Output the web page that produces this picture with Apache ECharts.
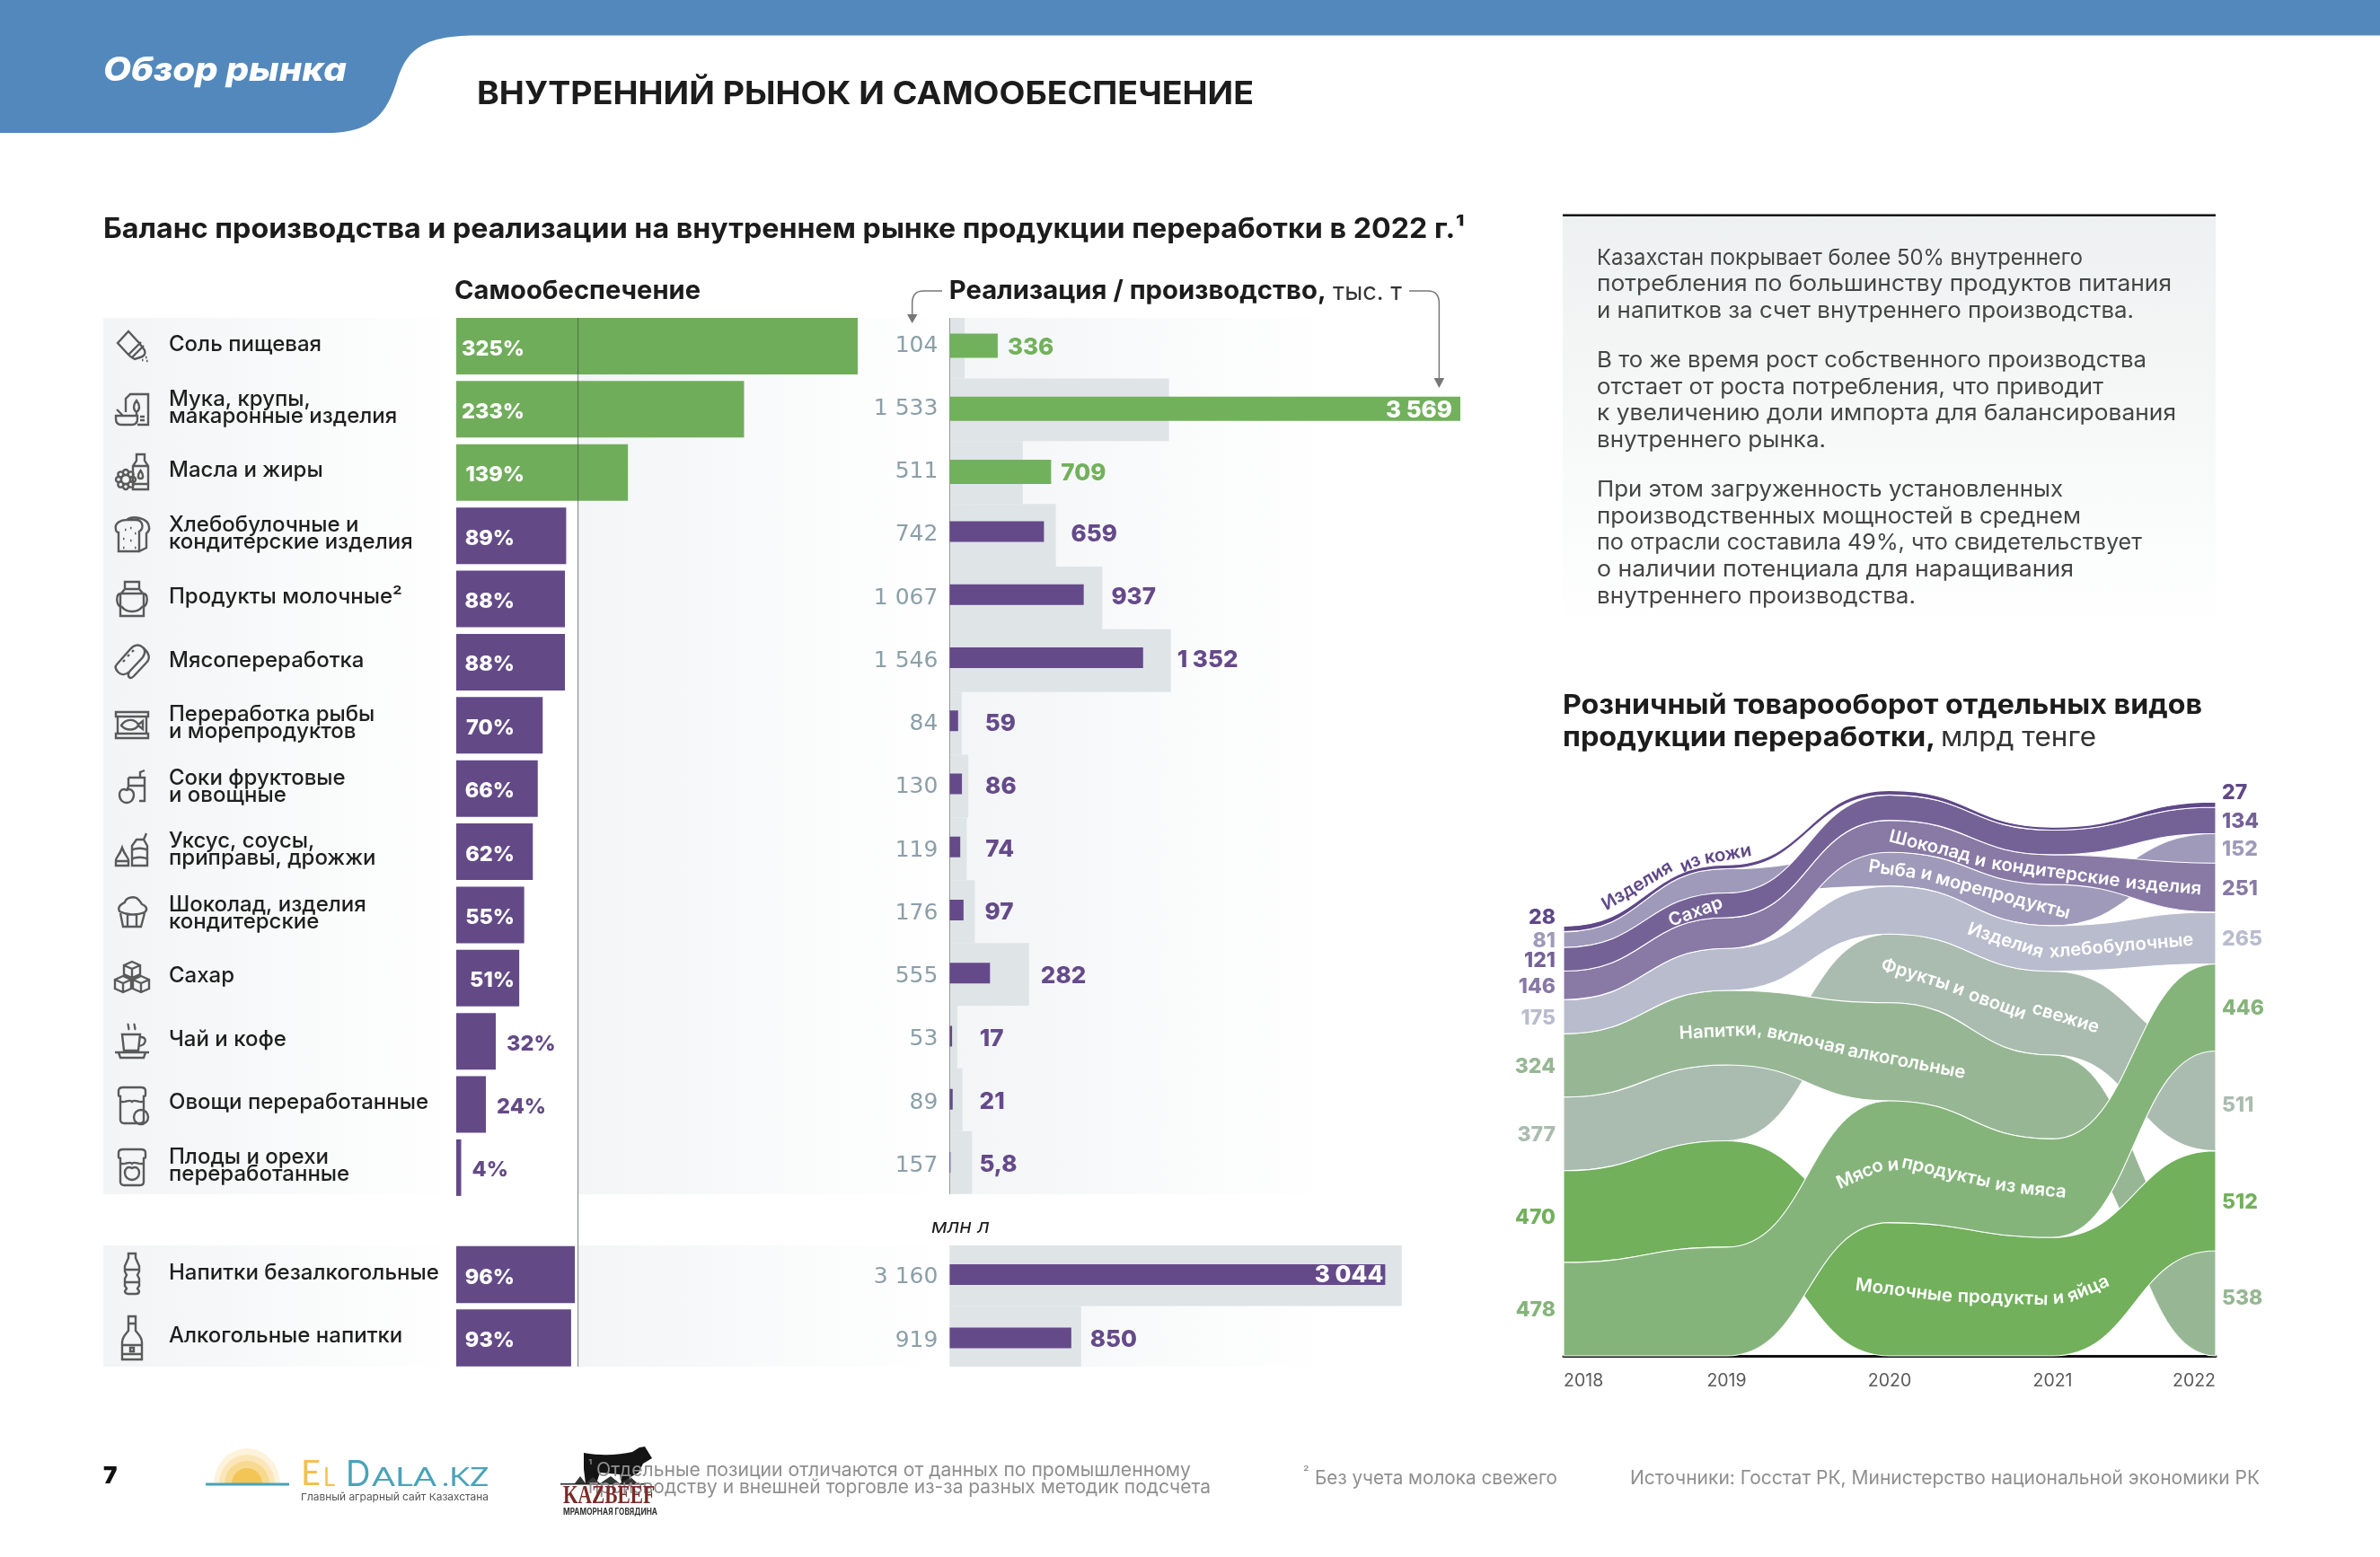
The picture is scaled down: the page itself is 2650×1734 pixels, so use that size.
<!DOCTYPE html>
<html><head><meta charset="utf-8">
<style>html,body{margin:0;padding:0;background:#fff}#c{width:2650px;height:1734px}</style>
<script src="https://cdn.jsdelivr.net/npm/echarts@6/dist/echarts.min.js"></script>
</head><body><div id="c"></div>
<script>
// ---------- data ----------
const rowNames = ['Соль пищевая','Мука, крупы,\nмакаронные изделия','Масла и жиры','Хлебобулочные и\nкондитерские изделия','Продукты молочные²','Мясопереработка','Переработка рыбы\nи морепродуктов','Соки фруктовые\nи овощные','Уксус, соусы,\nприправы, дрожжи','Шоколад, изделия\nкондитерские','Сахар','Чай и кофе','Овощи переработанные','Плоды и орехи\nпереработанные'];
const selfShare = [325,233,139,89,88,88,70,66,62,55,51,32,24,4];
const sales = [104,1533,511,742,1067,1546,84,130,119,176,555,53,89,157];
const production = [336,3569,709,659,937,1352,59,86,74,97,282,17,21,5.8];
const drinkNames = ['Напитки безалкогольные','Алкогольные напитки'];
const drinkShare = [96,93];
const drinkSales = [3160,919];
const drinkProduction = [3044,850];
const years = ['2018','2019','2020','2021','2022'];
const leather = [28,20,23,15,27];
const fish = [81,124,173,210,152];
const sugar = [121,126,130,126,134];
const choc = [146,158,164,153,251];
const bread = [175,215,245,234,265];
const drinks = [324,381,502,429,538];
const fruit = [377,389,352,429,511];
const dairy = [470,544,682,607,512];
const meat = [478,557,624,504,446];
const stackOrder = [
  ['meat','dairy','fruit','drinks','bread','choc','sugar','fish','leather'],
  ['meat','dairy','fruit','drinks','bread','choc','sugar','fish','leather'],
  ['dairy','meat','drinks','fruit','bread','fish','choc','sugar','leather'],
  ['dairy','meat','drinks','fruit','bread','fish','choc','sugar','leather'],
  ['drinks','dairy','fruit','meat','bread','choc','fish','sugar','leather']
];
const paragraphLines = [
 ['Казахстан покрывает более 50% внутреннего',288,541],['потребления по большинству продуктов питания',317,640],['и напитков за счет внутреннего производства.',347,598],
 ['В то же время рост собственного производства',402,612],['отстает от роста потребления, что приводит',432,564],['к увеличению доли импорта для балансирования',461,645],['внутреннего рынка.',491,255],
 ['При этом загруженность установленных',546,519],['производственных мощностей в среднем',576,539],['по отрасли составила 49%, что свидетельствует',605,607],['о наличии потенциала для наращивания',635,531],['внутреннего производства.',665,355]];

// ---------- styles ----------
const F = 'Inter, "Noto Sans", sans-serif';
const GREEN='#70ad5b', GREEN2='#72b15c', PURPLE='#634a87', GREY='#dfe4e7', NUM='#8b9fa8';
const bandStyle = {
  leather:{color:'#5f4888',data:leather}, sugar:{color:'#746297',data:sugar}, fish:{color:'#9f9ab9',data:fish},
  choc:{color:'#8879a5',data:choc}, bread:{color:'#b9bccd',data:bread}, fruit:{color:'#aabcb0',data:fruit},
  drinks:{color:'#97b794',data:drinks}, dairy:{color:'#72b05c',data:dairy}, meat:{color:'#85b47b',data:meat}
};
const drawOrder = ['fish','fruit','drinks','dairy','meat','bread','choc','sugar','leather'];
const labelShift = {leather:[-12,-13],fruit:[1.5,5],drinks:[1.5,-5]};
const gapsMain = [0,0,0,17,10,7,26,19,21,11,13,25,19,8];

const fmt = v => String(v).replace('.',',').replace(/\B(?=(\d{3})+(?!\d))/g,' ');
const mctx = document.createElement('canvas').getContext('2d');
function measure(s,font){mctx.font=font;return mctx.measureText(s).width;}
function T(s,x,y,o){
  o=o||{};
  const size=o.size||24, weight=o.weight||400, style=o.italic?'italic ':'', fam=o.family||F;
  const font=style+weight+' '+size+'px '+fam;
  let sx=o.sx||1;
  if(o.w) sx=o.w/measure(s,font);
  return {type:'text',x:x,y:y+1.5,z:o.z===undefined?40:o.z,scaleX:sx,scaleY:1,rotation:(o.rot||0)*Math.PI/180,silent:true,
    style:{text:s,font:font,fill:o.color||'#1c1c1c',textAlign:o.align||'left',textVerticalAlign:'middle'}};
}
const gradRect=(x,y,w,h,c0,c1,dir)=>({type:'rect',z:-1,silent:true,shape:{x,y,width:w,height:h},style:{fill:new echarts.graphic.LinearGradient(0,0,dir==='v'?0:1,dir==='v'?1:0,[{offset:0,color:c0},{offset:1,color:c1}])}});

// ---------- graphic text and panels ----------
const els=[];
[[354,976],[1387,135]].forEach(([y,h])=>{
  els.push(gradRect(115,y,400,h,'#f2f4f5','#ffffff'));
  els.push(gradRect(644,y,413,h,'#f3f5f6','#ffffff'));
  els.push(gradRect(1057,y,430,h,'#f3f5f6','#ffffff'));
});
els.push(gradRect(1740,241,727,465,'#eef1f1','#ffffff','v'));
els.push({type:'rect',z:1,silent:true,shape:{x:1740,y:238.5,width:727,height:2.5},style:{fill:'#111'}});
paragraphLines.forEach(l=>els.push(T(l[0],1778,l[1]-1.5,{size:24.5,color:'#454545',w:l[2]})));
els.push({type:'rect',z:5,silent:true,shape:{x:1050,y:344,width:30,height:10},style:{fill:'#fff'}});

els.push(T('Обзор рынка',115,77,{size:37,weight:800,italic:true,color:'#fff',w:271}));
els.push(T('ВНУТРЕННИЙ РЫНОК И САМООБЕСПЕЧЕНИЕ',531,104,{size:36,weight:700,w:865}));
els.push(T('Баланс производства и реализации на внутреннем рынке продукции переработки в 2022 г.¹',115,254,{size:31,weight:700,w:1516}));
els.push(T('Самообеспечение',506,323,{size:29,weight:700,w:274}));
els.push(T('Реализация / производство,',1056.7,323,{size:29,weight:700,w:420}));
els.push(T('тыс. т',1484,324,{size:27,weight:400,w:77,color:'#333'}));
els.push(T('млн л',1037,1365,{size:22,italic:true,w:65}));
els.push(T('Розничный товарооборот отдельных видов',1740,784,{size:30,weight:700,w:712}));
els.push(T('продукции переработки,',1740,820,{size:30,weight:700,w:415}));
els.push(T('млрд тенге',2161,820,{size:30,weight:400,w:173,color:'#333'}));
els.push(T('7',115,1643,{size:26,weight:900,color:'#111'}));
els.push(T('Отдельные позиции отличаются от данных по промышленному',664,1636,{size:21,w:662,color:'#8f8f8f'}));
els.push(T('¹',655,1631,{size:15,color:'#8f8f8f'}));
els.push(T('производству и внешней торговле из-за разных методик подсчета',655,1655,{size:21,w:693,color:'#8f8f8f'}));
els.push(T('²',1451,1639,{size:15,color:'#8f8f8f'}));
els.push(T('Без учета молока свежего',1464,1645,{size:21,w:270,color:'#8f8f8f'}));
els.push(T('Источники: Госстат РК, Министерство национальной экономики РК',1815,1645,{size:21,w:701,color:'#8f8f8f'}));
// logos text
els.push(T('E',335,1640,{size:39,weight:400,color:'#f2c14e',family:'Lato, Inter',w:22}));
els.push(T('L',360,1644,{size:28,weight:400,color:'#f2c14e',family:'Lato, Inter',w:13}));
els.push(T('D',385,1640,{size:41,weight:400,color:'#4aa3b8',family:'Lato, Inter',w:27}));
els.push(T('ALA',414,1644,{size:29,weight:400,color:'#4aa3b8',family:'Lato, Inter',w:72}));
els.push(T('.KZ',492,1644,{size:29,weight:400,color:'#4aa3b8',family:'Lato, Inter',w:52}));
els.push(T('Главный аграрный сайт Казахстана',335,1666,{size:11,color:'#555',w:209}));
els.push(T('KAZBEEF',627,1665,{size:29,weight:700,color:'#7b2a27',family:'"Liberation Serif"',w:102}));
els.push(T('МРАМОРНАЯ ГОВЯДИНА',627,1682,{size:10,weight:700,color:'#333',w:105}));
// words on the ribbons
[['Изделия',1823,985,31,'#5f4888'],['из',1882,960,25,'#5f4888'],['кожи',1924,950,10,'#5f4888'],
 ['Сахар',1888,1014,20],
 ['Шоколад',2149,941,-14],['и',2205,957,-12],['кондитерские',2289,970,-8],['изделия',2409,985,-5],
 ['Рыба',2107,967,-8],['и',2145,972,-12],['морепродукты',2230,996,-15],
 ['Изделия',2233,1046,-18],['хлебобулочные',2362,1052,5],
 ['Фрукты',2133,1084,-17],['и',2181,1100,-20],['овощи',2224,1117,-20],['свежие',2300,1132,-17],
 ['Напитки,',1916,1147,3],['включая',2011,1157,-13],['алкогольные',2123,1181,-11],
 ['Мясо',2071,1306,24],['и',2108,1296,5],['продукты',2167,1304,-13],['из',2233,1319,-8],['мяса',2275,1324,-5],
 ['Молочные',2120,1436,-7],['продукты',2230,1444,-2],['и',2292,1444,5],['яйца',2325,1434,23]
].forEach(w=>els.push(T(w[0],w[1],w[2],{size:20,weight:600,color:w[4]||'#fff',align:'center',rot:w[3],sx:1.02})));

// ---------- decorative shapes (icons, arrows, banner, logos) ----------
let flower='M-7,3a5,5 0 1 0 .01,0Z';
for(let a=0;a<8;a++){const t=a*Math.PI/4,cx=-7+Math.cos(t)*8,cy=8+Math.sin(t)*8;flower+=' M'+(cx+3)+','+cy+'a3,3 0 1 0 -6,0a3,3 0 1 0 6,0Z';}
const ICONS=[
 'M-16,-2L-4,-15L8,-2L14,6Q16,12 9,14L3,16Q-1,14 -4,11Z M-4,11L10,-3 M0,14L13,1 M11,17h1.5M15,14h1.5M16,18h1.5',
 'M-7,3V-12L-2,-17H18V17H6 M5,-10C1,-5 1,0 5,3C9,0 9,-5 5,-10Z M5,3V7 M9,8h5M9,12h5 M-18,7H6V10Q6,17 0,17H-12Q-18,17 -18,10Z M-10,7L-17,0',
 'M5,-20H14V-13L18,-7V19H1V-7L5,-13Z M1,-7H18 M1,13H18 M9.5,-2C6,3 6,7 9.5,7C13,7 13,3 9.5,-2Z '+flower,
 'M-18,-6C-20,-14 -12,-17 -6,-17H4C12,-17 14,-8 8,-4V18H-15V-3C-17,-3 -18,-5 -18,-6Z M-6,-17C0,-22 18,-20 19,-9C20,-5 17,-3 16,-2V14L8,18 M-8,-6h1.5M-2,-8h1.5M3,-2h1.5M-10,4h1.5M-2,6h1.5M3,14h1.5M-10,14h1.5',
 'M-8,-19H8V-11H-8Z M-8,-11L-13,-5V19H13V-5L8,-11 M-13,-6C-18,-5 -18,5 -13,9 M13,-6C18,-5 18,5 13,9 M-13,-6H13 M-12,8C-6,16 6,16 12,8',
 'M-17,3L-2,-14C2,-19 8,-20 12,-16C16,-12 14,-8 12,-5L-3,11C-7,15 -12,15 -15,12C-19,8 -19,5 -17,3Z M-3,11C-6,17 -2,20 2,16L16,1C21,-4 19,-10 12,-16 M-10,0l2,-2 M-5,-6l2,-2 M0,-11l2,-2',
 'M-18,-14H18V-9H-18Z M-18,10H18V15H-18Z M-16,-9V10 M16,-9V10 M-12,1C-7,-7 3,-7 7,0L12,-4V5L7,1C3,7 -7,7 -12,1Z',
 'M-4,-12H14V14H8 M-4,-12V-2 M-4,-3H14 M9,-12V-18L14,-20 M-6,2C-12,-1 -14,4 -14,7C-14,13 -10,16 -6,16C-2,16 2,13 2,7C2,4 -1,-1 -6,2Z M-6,2L-4,-2',
 'M0,-8L5,-15H13L17,-8V14H0Z M0,-3C3,-6 14,-6 17,-3 M0,7C3,4 14,4 17,7 M13,-15L16,-22 M-18,14V8C-18,5 -14,3 -11,-6C-8,3 -4,5 -4,8V14Z M-18,9H-4',
 'M-14,-3C-17,-9 -10,-12 -8,-13C-7,-18 0,-20 5,-18C10,-14 10,-12 11,-11C16,-9 18,-5 14,-2C5,2 -6,1 -14,-3Z M-13,-1L-10,14H10L14,-1 M-5,1V14 M5,1V14',
 'M0,-18L9,-14V-4L0,0L-9,-4V-14Z M-9,-14L0,-10L9,-14 M0,-10V0 M-10,-2L-1,2V12L-10,16L-19,12V2Z M-19,2L-10,6L-1,2 M-10,6V16 M10,-2L19,2V12L10,16L1,12V2Z M1,2L10,6L19,2 M10,6V16',
 'M-11,-8H9L7,10H-9Z M9,-5C17,-6 17,4 7,5 M-19,12H19 M-15,12L-13,18H13L15,12 M-4,-20C-6,-17 -2,-16 -4,-13 M3,-20C1,-17 5,-16 3,-13',
 'M-15,-16C-15,-20 -12,-20 -10,-20H10C14,-20 15,-18 15,-16V-12C15,-10 14,-10 13,-10V16C13,19 11,20 9,20H-9C-11,20 -13,19 -13,16V-10C-14,-10 -15,-10 -15,-12Z M-13,-5C-8,-1 -4,-8 0,-4C4,-8 8,-1 13,-5 M10,5a8,8 0 1 0 .01,0Z',
 'M-15,-16C-15,-20 -12,-20 -10,-20H10C14,-20 15,-18 15,-16V-12C15,-10 14,-10 13,-10V16C13,19 11,20 9,20H-9C-11,20 -13,19 -13,16V-10C-14,-10 -15,-10 -15,-12Z M-13,-5C-8,-1 -4,-8 0,-4C4,-8 8,-1 13,-5 M0,1C-5,-2 -8,2 -8,6C-8,11 -4,14 0,14C4,14 8,11 8,6C8,2 5,-2 0,1Z',
 'M-4,-22H4V-17L8,-8V-2L6,2L8,6V14L6,17L8,20C8,22 6,23 4,23H-4C-6,23 -8,22 -8,20L-6,17L-8,14V6L-6,2L-8,-2V-8L-4,-17Z M-8,-4H8 M-8,10H8',
 'M-4,-24H4V-8C7,-4 11,-1 11,5V24H-11V5C-11,-1 -7,-4 -4,-8Z M-4,-16H4 M-11,8H11 M-11,18H11 M-2,11h4v4h-4Z'
];
const ICON_Y=[384,456,526,596,667,737,807,878,950,1018,1089,1160,1231,1300,1418,1490];
const sunR=[[37,40,'#fdf3dd'],[31,33,'#fae6b8'],[25,26,'#f7d98f'],[17,18,'#f2c556']];
function decor(){
  const ch=[];
  const p=(d,style,x,y)=>ch.push({type:'path',x:x||0,y:y||0,shape:{pathData:d},style:style,silent:true});
  p('M0,0H2650V39.5H530C465,39.5 452,60 442,90C432,120 420,148 365,148H0Z',{fill:'#5288bc'});
  ICONS.forEach((d,i)=>p(d,{fill:'none',stroke:'#5a5a5a',lineWidth:2.4},147,ICON_Y[i]));
  const ar={fill:'none',stroke:'#777',lineWidth:1.5};
  p('M1049,324H1028Q1015.7,324 1015.7,338V352',ar);
  p('M1569,324H1590Q1602.4,324 1602.4,338V422',ar);
  p('M1010,350H1021.5L1015.7,360Z',{fill:'#777'});
  p('M1596.6,421H1608.2L1602.4,432Z',{fill:'#777'});
  sunR.forEach(r=>p('M'+(-r[0])+',0A'+r[0]+','+r[1]+' 0 0 1 '+r[0]+',0Z',{fill:r[2]},275,1653));
  ch.push({type:'rect',shape:{x:229,y:1651.5,width:93,height:3},style:{fill:'#4aa3b8'},silent:true});
  p('M650,1618C672,1622 690,1620 704,1617L712,1612L718,1611L726,1624L716,1630L711,1640L702,1645L700,1651L692,1651L690,1642L668,1640L664,1652L652,1652L650,1636Z',{fill:'#141414'});
  ch.push({type:'rect',shape:{x:624,y:1652,width:95,height:1.5},style:{fill:'#222'},silent:true});
  p('M640,1652L646,1644L652,1652L660,1645L668,1652L680,1644L690,1652L702,1645L710,1652Z',{fill:'#333'});
  return {type:'group',children:ch};
}

// ---------- axes / grids ----------
const hiddenX=(grid,max)=>({type:'value',gridIndex:grid,min:0,max:max,show:false});
const hiddenY=(grid,names,extra)=>Object.assign({type:'category',gridIndex:grid,inverse:true,data:names,axisLine:{show:false},axisTick:{show:false},axisLabel:{show:false}},extra||{});
const nameLabel={show:true,align:'left',margin:320,interval:0,fontFamily:F,fontSize:24,fontWeight:500,color:'#1f1f1f',lineHeight:19};
const numLabel=(vals)=>({show:true,align:'right',margin:13,interval:0,fontFamily:'"DejaVu Sans"',fontSize:25,color:NUM,formatter:(v,i)=>fmt(vals[i])});
const RW=568.6;
const grids=[
 {left:508,top:350.3,width:447,height:985.3},     // 0 self-sufficiency bars
 {left:508,top:1384.2,width:447,height:141},      // 1 drinks self-sufficiency bars
 {left:1057.4,top:351.6,width:RW,height:978},     // 2 sales
 {left:1057.4,top:346.1,width:RW,height:983.5},   // 3 purple production
 {left:1057.4,top:349.9,width:RW,height:983.5},   // 4 green production, sales numbers
 {left:1057.4,top:1387,width:RW,height:135},      // 5 drinks sales
 {left:1057.4,top:1384.2,width:RW,height:141},    // 6 drinks production
 {left:1741,top:857.5,width:726,height:652.5},    // 7 ribbons
 {left:508,top:348.3,width:447,height:985.3},     // 8 row names
 {left:508,top:1382.4,width:447,height:141},      // 9 drink names
 {left:1057.4,top:1387.5,width:RW,height:141}     // 10 drink sales numbers
];
const xAxes=[hiddenX(0,325),hiddenX(1,325),hiddenX(2,3569),hiddenX(3,3569),hiddenX(4,3569),hiddenX(5,3569),hiddenX(6,3569),
 {type:'category',gridIndex:7,boundaryGap:false,data:years,z:1,
  axisLine:{show:true,lineStyle:{color:'#111',width:3}},axisTick:{show:false},
  axisLabel:{interval:0,margin:18,fontFamily:F,fontSize:19.5,color:'#5a5a5a',alignMinLabel:'left',alignMaxLabel:'right'}},
 hiddenX(8,325),hiddenX(9,325),hiddenX(10,3569)];
const yAxes=[
 hiddenY(0,rowNames),
 hiddenY(1,drinkNames),
 hiddenY(2,rowNames,{z:3,axisLine:{show:true,lineStyle:{color:'#9a9a9a',width:1}}}),
 hiddenY(3,rowNames),
 hiddenY(4,rowNames,{axisLabel:numLabel(sales)}),
 hiddenY(5,drinkNames),
 hiddenY(6,drinkNames),
 {type:'value',gridIndex:7,min:0,max:3000,show:false},
 hiddenY(8,rowNames,{axisLabel:nameLabel}),
 hiddenY(9,drinkNames,{axisLabel:nameLabel}),
 hiddenY(10,drinkNames,{axisLabel:numLabel(drinkSales)})
];

// ---------- series ----------
const pctLabel=(v,green)=>{
  const base={show:true,formatter:v+'%',fontFamily:F,fontSize:23.5,fontWeight:800,offset:[0,3]};
  if(v<40) return Object.assign(base,{position:'right',distance:12,color:PURPLE});
  return Object.assign(base,{position:[green?76:65,'50%'],align:'right',verticalAlign:'middle',color:'#fff'});
};
const valFont={fontFamily:F,fontSize:26,fontWeight:800};
const series=[];
series.push({type:'bar',xAxisIndex:0,yAxisIndex:0,barWidth:63,z:2,
  data:selfShare.map((v,i)=>({value:v,itemStyle:{color:i<3?GREEN:PURPLE},label:pctLabel(v,i<3)}))});
series.push({type:'bar',xAxisIndex:1,yAxisIndex:1,barWidth:63.5,z:2,
  data:drinkShare.map(v=>({value:v,itemStyle:{color:PURPLE},label:pctLabel(v,false)}))});
series.push({type:'bar',xAxisIndex:2,yAxisIndex:2,barWidth:69.9,z:2,itemStyle:{color:GREY},data:sales});
series.push({type:'bar',xAxisIndex:4,yAxisIndex:4,barWidth:27,z:3,itemStyle:{color:GREEN2},
  data:production.map((v,i)=>i<3?{value:v,label:Object.assign({show:true,formatter:fmt(v),offset:[0,2],position:v>3000?'insideRight':'right',distance:v>3000?9:11,color:v>3000?'#fff':GREEN2},valFont)}:null)});
series.push({type:'bar',xAxisIndex:3,yAxisIndex:3,barWidth:23,barGap:'-100%',z:3,itemStyle:{color:'#654a8a'},
  data:production.map((v,i)=>i<3?null:v)});
series.push({type:'bar',xAxisIndex:3,yAxisIndex:3,barWidth:23,barGap:'-100%',z:4,itemStyle:{color:'transparent'},
  data:production.map((v,i)=>i<3?null:{value:Math.max(v,sales[i]),label:Object.assign({show:true,formatter:fmt(v),offset:[0,3],position:'right',distance:gapsMain[i],color:'#654a8a'},valFont)})});
series.push({type:'bar',xAxisIndex:5,yAxisIndex:5,barWidth:67.5,z:2,itemStyle:{color:GREY},data:drinkSales});
series.push({type:'bar',xAxisIndex:6,yAxisIndex:6,barWidth:23,barGap:'-100%',z:3,itemStyle:{color:'#654a8a'},
  data:drinkProduction.map((v,i)=>({value:v,label:i===0?Object.assign({show:true,formatter:fmt(v),position:'insideRight',distance:2,color:'#fff',offset:[0,1]},valFont):{show:false}}))});
series.push({type:'bar',xAxisIndex:6,yAxisIndex:6,barWidth:23,barGap:'-100%',z:4,itemStyle:{color:'transparent'},
  data:drinkSales.map((v,i)=>({value:v,label:i===0?{show:false}:Object.assign({show:true,formatter:fmt(drinkProduction[i]),position:'right',distance:10,color:'#654a8a',offset:[0,2]},valFont)}))});

// stacked limits per year, in value space
const limits={};
Object.keys(bandStyle).forEach(k=>limits[k]=[]);
years.forEach((y,yi)=>{let acc=0;stackOrder[yi].forEach(k=>{const v=bandStyle[k].data[yi];limits[k][yi]=[acc,acc+v];acc+=v;});});

drawOrder.forEach((key,zi)=>{
  const b=bandStyle[key];
  series.push({type:'custom',xAxisIndex:7,yAxisIndex:7,z:5+zi,silent:true,clip:false,
    data:b.data.map((v,i)=>[i,v]),
    renderItem:function(params,api){
      if(params.dataIndex!==0) return null;
      const top=limits[key].map((l,i)=>api.coord([i,l[1]]));
      const bot=limits[key].map((l,i)=>api.coord([i,l[0]]));
      const curve=(pts)=>{let s='';for(let i=1;i<pts.length;i++){const a=pts[i-1],c=pts[i],m=(c[0]-a[0])*0.5;s+='C'+(a[0]+m)+','+a[1]+' '+(c[0]-m)+','+c[1]+' '+c[0]+','+c[1];}return s;};
      const rb=bot.slice().reverse();
      const d='M'+top[0][0]+','+top[0][1]+curve(top)+'L'+rb[0][0]+','+rb[0][1]+curve(rb)+'Z';
      const shift=labelShift[key]||[1.5,1.5];
      const font='800 23px '+F;
      const ends=[0,years.length-1].map((i,n)=>({type:'text',
        x:i===0?top[i][0]-9:top[i][0]+7,
        y:(top[i][1]+bot[i][1])/2+shift[n],
        style:{text:fmt(b.data[i]),font:font,fill:b.color,align:i===0?'right':'left',verticalAlign:'middle'}}));
      return {type:'group',children:[{type:'path',shape:{pathData:d},style:{fill:b.color,stroke:'#fff',lineWidth:1.1}}].concat(ends)};
    }
  });
});
series.push({type:'custom',coordinateSystem:'none',z:30,silent:true,data:[[0]],clip:false,renderItem:()=>decor()});

const chart=echarts.init(document.getElementById('c'),null,{renderer:'canvas',width:2650,height:1734});
chart.setOption({animation:false,backgroundColor:'#fff',tooltip:{show:false},grid:grids,xAxis:xAxes,yAxis:yAxes,series:series,graphic:{elements:els}});
// 100 % reference line, placed through the scale of the self-sufficiency axis
const x100=chart.convertToPixel({gridIndex:0},[100,0])[0]-2;
chart.setOption({graphic:{elements:els.concat([{type:'line',z:20,silent:true,shape:{x1:x100,y1:354,x2:x100,y2:1522},style:{stroke:'rgba(70,80,75,.62)',lineWidth:1.2}}])}});
</script></body></html>
